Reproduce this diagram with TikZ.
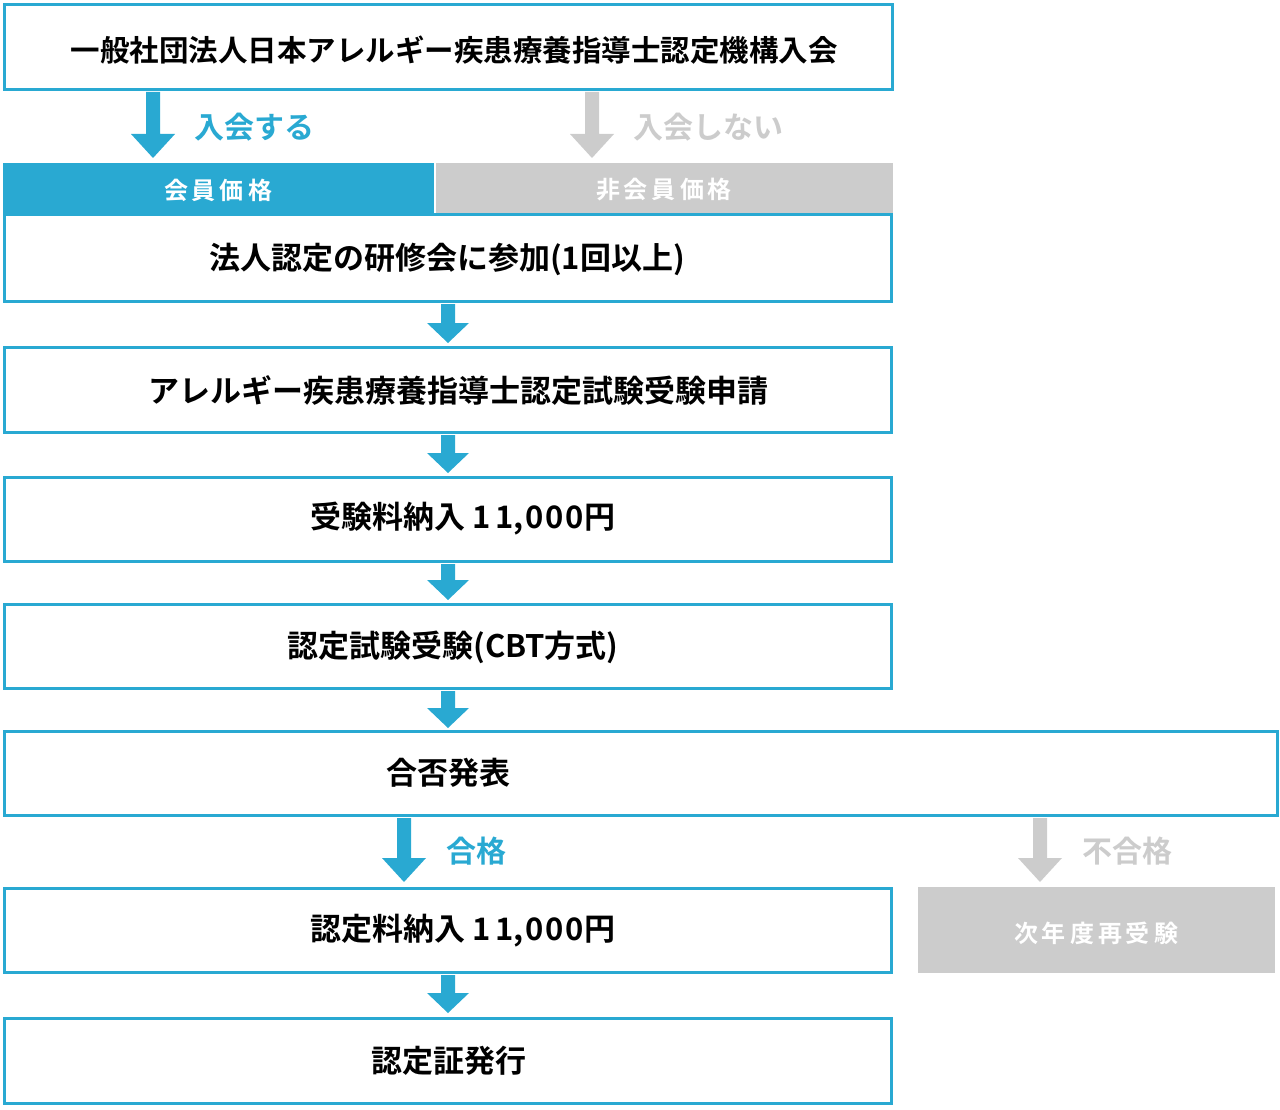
\documentclass[tikz,border=0pt]{standalone}
\usepackage{fontspec}
\setmainfont{Noto Sans CJK JP Bold}
\definecolor{cblue}{HTML}{29A9D2}
\definecolor{cgray}{HTML}{CCCCCC}
\newcommand{\dnarrow}[7]{% x, ytop, ybot, shaft half, head half, head height, color
  \fill[#7] (#1-#4,#2) -- (#1+#4,#2) -- (#1+#4,#3-#6) -- (#1+#5,#3-#6) -- (#1,#3) -- (#1-#5,#3-#6) -- (#1-#4,#3-#6) -- cycle;}
\newcommand{\gp}{\hspace{4pt}}
\begin{document}
\begin{tikzpicture}[x=1pt,y=-1pt,
  box/.style={draw=cblue,line width=3pt,inner sep=0pt,fill=white},
  ttl/.style={font=\fontsize{29.5}{29.5}\selectfont,text=black},
  txt/.style={font=\fontsize{31}{31}\selectfont,text=black},
  lab/.style={font=\fontsize{30}{30}\selectfont},
  hdr/.style={font=\fontsize{24}{24}\selectfont,text=white}]
\useasboundingbox (0,0) rectangle (1280,1110);
% top box
\draw[box] (4.5,4.5) rectangle (892.5,89.5);
\node[ttl] (t1) at (454,50) {一般社団法人日本アレルギー疾患療養指導士認定機構入会};
\dnarrow{153}{92}{158}{7}{22}{24}{cblue}
\node[lab,text=cblue] (yes) at (254,127) {入会する};
\dnarrow{592}{92}{158}{7}{22}{24}{cgray}
\node[lab,text=cgray] (no) at (708,127) {入会しない};
% header bars
\fill[cblue] (3,163) rectangle (434,215);
\fill[cgray] (436,163) rectangle (893,215);
\node[hdr] (h1) at (218,190) {会\gp 員\gp 価\gp 格};
\node[hdr] (h2) at (664,190) {非\gp 会\gp 員\gp 価\gp 格};
% boxes
\draw[box] (4.5,215) rectangle (891.5,301.5);
\node[txt] (b1) at (447,259) {法人認定の研修会に参加(1回以上)};
\dnarrow{448}{304}{343}{7}{21}{20}{cblue}
\draw[box] (4.5,347.5) rectangle (891.5,432.5);
\node[txt] (b2) at (458,391) {アレルギー疾患療養指導士認定試験受験申請};
\dnarrow{448}{435}{473}{7}{21}{20}{cblue}
\draw[box] (4.5,477.5) rectangle (891.5,561.5);
\node[txt] (b3) at (463,519) {受験料納入 1\gp 1,\hspace{2pt}0\hspace{2pt}0\hspace{2pt}0円};
\dnarrow{448}{564}{600}{7}{21}{20}{cblue}
\draw[box] (4.5,604.5) rectangle (891.5,688.5);
\node[txt] (b4) at (453,647) {認定試験受験(CBT方式)};
\dnarrow{448}{691}{728}{7}{21}{20}{cblue}
\draw[box] (4.5,731.5) rectangle (1277.5,815.5);
\node[txt] (b5) at (448,773) {合否発表};
\dnarrow{404}{818}{882}{7}{22}{24}{cblue}
\node[lab,text=cblue] (pass) at (476,851) {合格};
\dnarrow{1040}{818}{882}{7}{22}{24}{cgray}
\node[lab,text=cgray] (fail) at (1127,851) {不合格};
\draw[box] (4.5,888.5) rectangle (891.5,972.5);
\node[txt] (b6) at (463,931) {認定料納入 1\gp 1,\hspace{2pt}0\hspace{2pt}0\hspace{2pt}0円};
\fill[cgray] (918,887) rectangle (1275,973);
\node[hdr] (re) at (1096,933) {次\gp 年\gp 度\gp 再\gp 受\gp 験};
\dnarrow{448}{975}{1013}{7}{21}{20}{cblue}
\draw[box] (4.5,1018.5) rectangle (891.5,1103.5);
\node[txt] (b7) at (449,1061) {認定証発行};
\end{tikzpicture}
\end{document}
